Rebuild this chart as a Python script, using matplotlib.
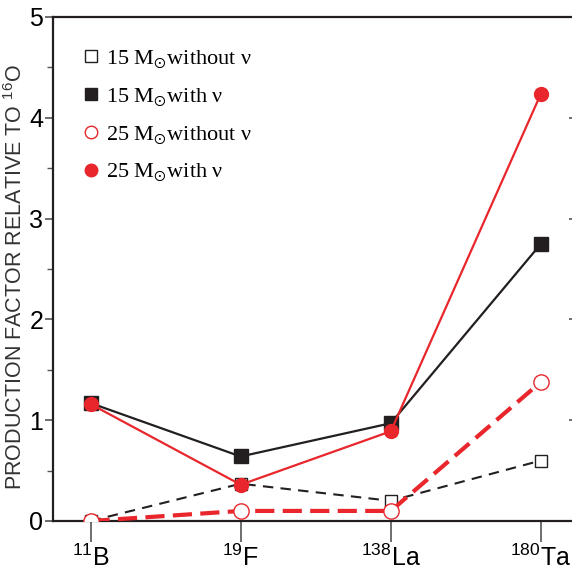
import numpy as np
import matplotlib
matplotlib.use('Agg')
import matplotlib.pyplot as plt
from matplotlib.font_manager import FontProperties

# isotopes along the x axis
isotopes = [r'$^{11}$B', r'$^{19}$F', r'$^{138}$La', r'$^{180}$Ta']

# production factors relative to 16O
m15_no_nu = [0.0, 0.37, 0.20, 0.60]
m15_nu = [1.17, 0.64, 0.97, 2.75]
m25_no_nu = [0.0, 0.10, 0.10, 1.38]
m25_nu = [1.16, 0.36, 0.89, 4.24]

RED = '#e8262b'
BLK = '#231f20'

plt.rcParams['mathtext.fontset'] = 'custom'
plt.rcParams['mathtext.rm'] = 'Liberation Sans'
plt.rcParams['mathtext.it'] = 'Liberation Sans'
plt.rcParams['mathtext.bf'] = 'Liberation Sans'
sans = ['Liberation Sans', 'DejaVu Sans']

fig = plt.figure(figsize=(5.72, 5.79), dpi=100)
ax = fig.add_axes([53/572, 1 - 521/579, (578.5 - 53)/572, (521 - 17)/579])

x = np.arange(len(isotopes))

ax.plot(x, m15_no_nu, ls=(0, (5, 3.5)), color=BLK, lw=1.5, marker='s', ms=9,
        mfc='white', mec=BLK, mew=1.0, zorder=2)
ax.plot(x, m25_no_nu, ls=(0, (4.6, 2)), color=RED, lw=3.0, marker='o', ms=11,
        mfc='white', mec=RED, mew=1.0, zorder=3)
ax.plot(x, m15_nu, '-', color=BLK, lw=1.6, marker='s', ms=10, mfc=BLK, mec=BLK, zorder=4)
ax.plot(x, m25_nu, '-', color=RED, lw=1.6, marker='o', ms=10, mfc=RED, mec=RED, zorder=5)

ax.set_xlim(-0.25, 3.25)
ax.set_ylim(0, 5)

ax.set_xticks(x)
ax.set_xticklabels(isotopes, fontsize=18, family=sans)
ax.set_yticks(range(6))
ax.set_yticks(np.arange(0.5, 5, 1.0), minor=True)
ax.set_yticklabels([str(i) for i in range(6)], fontsize=18, family=sans)

ax.tick_params(axis='x', direction='out', length=15, width=1.2, color='#555555', pad=2)
ax.tick_params(axis='y', which='major', direction='out', length=6, width=1.2,
               color='#555555', right=True, pad=1)
ax.tick_params(axis='y', which='minor', direction='out', length=4, width=1.0,
               color='#555555', right=False)
for sp in ax.spines.values():
    sp.set_linewidth(1.6)
    sp.set_color(BLK)

# right axis ticks point inwards
for t in ax.yaxis.get_major_ticks():
    t.tick2line.set_marker(matplotlib.lines.TICKLEFT)
    t.tick2line.set_markersize(7)

ax.set_ylabel(r'PRODUCTION FACTOR RELATIVE TO $^{16}$O', fontsize=15.5,
              family=sans, color='#333333')
ax.yaxis.set_label_coords(-0.05, 0.483)

# legend entries, markers only
handles = [
    plt.Line2D([], [], ls='none', marker='s', ms=8, mfc='white', mec=BLK, mew=1.0),
    plt.Line2D([], [], ls='none', marker='s', ms=8, mfc=BLK, mec=BLK),
    plt.Line2D([], [], ls='none', marker='o', ms=9, mfc='none', mec=RED, mew=1.0),
    plt.Line2D([], [], ls='none', marker='o', ms=9, mfc=RED, mec=RED),
]
labels = ['15 M$_{\\odot}$without ν', '15 M$_{\\odot}$with ν',
          '25 M$_{\\odot}$without ν', '25 M$_{\\odot}$with ν']
prop = FontProperties(family=['Liberation Serif', 'DejaVu Serif'], size=16, math_fontfamily='stix')
leg = ax.legend(handles, labels, loc='upper left', bbox_to_anchor=(0.04, 0.955),
                frameon=False, prop=prop, handlelength=0.7, handletextpad=0.35,
                labelspacing=0.72, borderaxespad=0)

fig.savefig('out.png', dpi=100)
